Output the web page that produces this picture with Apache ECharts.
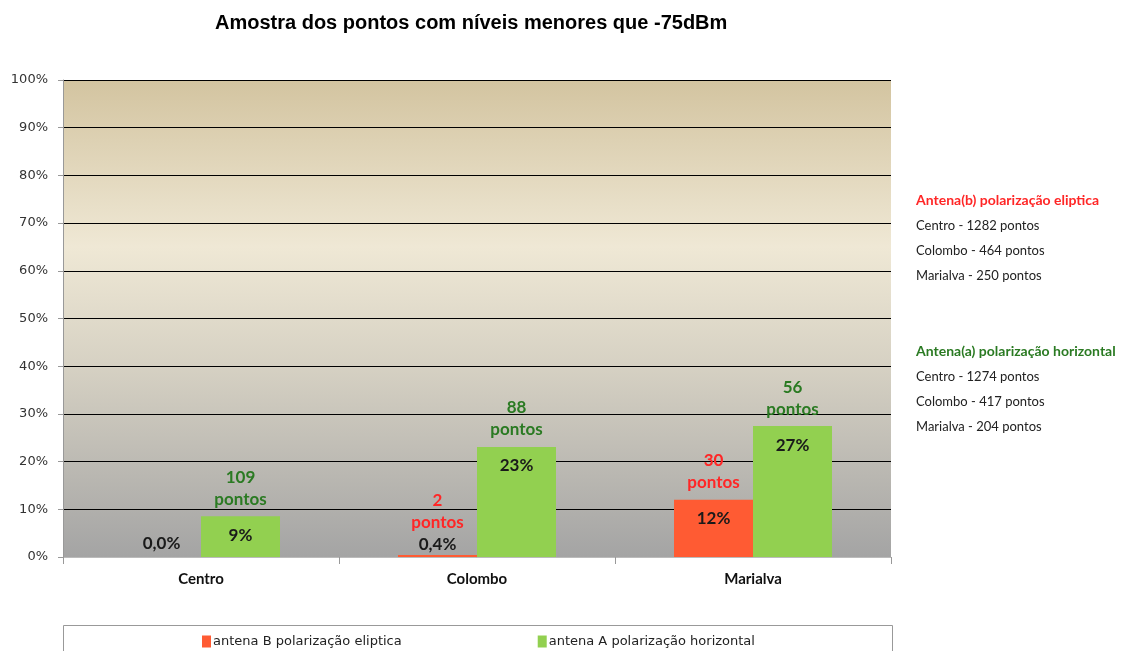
<!DOCTYPE html>
<html>
<head>
<meta charset="utf-8">
<script src="https://cdn.jsdelivr.net/npm/echarts@6/dist/echarts.min.js"></script>
<style>
  html, body { margin: 0; padding: 0; background: #fff; }
  #chart { width: 1127px; height: 651px; }
</style>
</head>
<body>
<div id="chart"></div>
<script>
// dados
const categories = ['Centro', 'Colombo', 'Marialva'];
const elipticaPct = [0, 0.43, 12];
const horizontalPct = [8.56, 23.06, 27.45];
const elipticaPontos = [0, 2, 30];
const horizontalPontos = [109, 88, 56];
const elipticaTotal = [1282, 464, 250];
const horizontalTotal = [1274, 417, 204];
const serieNames = ['antena B polarização eliptica', 'antena A polarização horizontal'];

const RED = '#ff5b33';
const GREEN = '#92d050';
const RED_TXT = '#ff2626';
const GREEN_TXT = '#2a7a22';

function fmtPct(v) {
    if (v < 1) return v.toFixed(1).replace('.', ',') + '%';
    return Math.round(v) + '%';
}

// monta os itens com o rotulo (pontos em cima, % dentro da barra)
function buildItems(pcts, pontos, style) {
    return pcts.map((v, i) => {
        const small = v < 2;
        let txt = '';
        if (pontos[i] > 0) {
            txt += '{' + style + '|' + pontos[i] + '}\n{' + style + '|pontos}\n';
        }
        txt += small ? '{p|' + fmtPct(v) + '}' : '{q|' + fmtPct(v) + '}';
        return {
            value: v,
            label: {
                formatter: txt,
                distance: small ? (pontos[i] > 0 ? 0 : 3) : 0,
                offset: small ? [0, 1] : [0, 44]
            }
        };
    });
}

const richStyles = {
    r: { color: RED_TXT, fontWeight: 'bold', fontSize: 17, lineHeight: 22, fontFamily: 'Lato' },
    g: { color: GREEN_TXT, fontWeight: 'bold', fontSize: 17, lineHeight: 22, fontFamily: 'Lato' },
    p: { color: '#1a1a1a', fontWeight: 'bold', fontSize: 17, lineHeight: 22, fontFamily: 'Lato' },
    q: { color: '#1a1a1a', fontWeight: 'bold', fontSize: 17, lineHeight: 50, fontFamily: 'Lato' }
};

// textos da direita
const sideText = [];
function addSide(title, color, totals, y0) {
    sideText.push({
        type: 'text', left: 916, top: y0 - 8,
        style: { text: title, fill: color, font: 'bold 14px Lato' }
    });
    totals.forEach((t, i) => {
        sideText.push({
            type: 'text', left: 916, top: y0 - 7 + 25 * (i + 1),
            style: { text: categories[i] + ' - ' + t + ' pontos', fill: '#222', font: '13px Lato' }
        });
    });
}
addSide('Antena(b) polarização eliptica', RED_TXT, elipticaTotal, 201);
addSide('Antena(a) polarização horizontal', GREEN_TXT, horizontalTotal, 352);

const chart = echarts.init(document.getElementById('chart'));

chart.setOption({
    backgroundColor: '#fff',
    animation: false,
    title: {
        text: 'Amostra dos pontos com níveis menores que -75dBm',
        left: 210,
        top: 8,
        textStyle: { fontFamily: 'Liberation Sans', fontSize: 20, fontWeight: 'bold', color: '#000' }
    },
    grid: {
        left: 63, right: 236, top: 80, bottom: 94,
        show: true,
        borderWidth: 0,
        backgroundColor: new echarts.graphic.LinearGradient(0, 0, 0, 1, [
            { offset: 0, color: '#d3c4a0' },
            { offset: 0.35, color: '#efe8d5' },
            { offset: 0.6, color: '#d6d1c3' },
            { offset: 1, color: '#a4a4a4' }
        ])
    },
    legend: {
        left: 197,
        top: 630,
        itemWidth: 9,
        itemHeight: 12,
        itemGap: 136,
        itemStyle: { borderWidth: 0 },
        icon: 'rect',
        textStyle: { fontFamily: 'DejaVu Sans', fontSize: 13, color: '#222', padding: [0, 0, 0, -3] },
        data: serieNames
    },
    xAxis: {
        type: 'category',
        data: categories,
        axisLine: { lineStyle: { color: '#bbb' } },
        axisTick: { show: true, length: 7, lineStyle: { color: '#999' } },
        axisLabel: { margin: 15, fontFamily: 'Lato', fontWeight: 'bold', fontSize: 15, color: '#111' }
    },
    yAxis: {
        type: 'value',
        min: 0, max: 100, interval: 10,
        axisLine: { show: true, lineStyle: { color: '#999' } },
        axisTick: { show: true, length: 5, lineStyle: { color: '#999' } },
        axisLabel: { formatter: '{value}%', fontFamily: 'DejaVu Sans', fontSize: 13, color: '#333', margin: 15 },
        splitLine: { lineStyle: { color: '#000', width: 1 } }
    },
    series: [
        {
            name: serieNames[0],
            type: 'bar',
            barWidth: 79,
            barGap: '0%',
            itemStyle: { color: RED },
            label: { show: true, position: 'top', rich: richStyles },
            data: buildItems(elipticaPct, elipticaPontos, 'r')
        },
        {
            name: serieNames[1],
            type: 'bar',
            barWidth: 79,
            barGap: '0%',
            itemStyle: { color: GREEN },
            label: { show: true, position: 'top', rich: richStyles },
            data: buildItems(horizontalPct, horizontalPontos, 'g')
        }
    ],
    graphic: [
        {
            type: 'rect',
            shape: { x: 63.5, y: 625.5, width: 829, height: 40 },
            style: { fill: '#fff', stroke: '#999', lineWidth: 1 },
            z: -1
        }
    ].concat(sideText)
});
</script>
</body>
</html>
